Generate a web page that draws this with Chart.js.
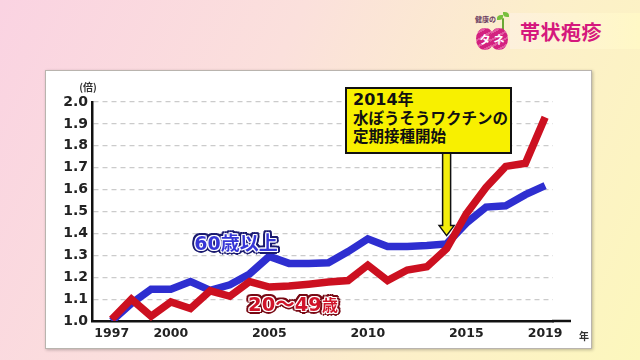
<!DOCTYPE html>
<html lang="ja">
<head>
<meta charset="utf-8">
<title>帯状疱疹</title>
<script src="https://cdn.jsdelivr.net/npm/chart.js@4"></script>
<style>
  body { margin: 0; }
  #stage {
    position: relative; width: 640px; height: 360px; overflow: hidden;
    background: linear-gradient(115deg, #fad3e2 0%, #fbe0dc 38%, #fcefca 68%, #fcf7bd 100%);
    font-family: "Noto Sans CJK JP", sans-serif;
  }
  #panel {
    position: absolute; left: 45px; top: 70px; width: 547px; height: 279px;
    box-sizing: border-box; background: #fff; border: 1px solid #b9b4ae;
    box-shadow: 1px 1px 3px rgba(0, 0, 0, 0.25);
  }
  #chart { position: absolute; left: 0; top: 0; }
  .band {
    position: absolute; left: 510px; top: 13px; width: 130px; height: 36px;
    background: linear-gradient(to right, #fdf0dc, #fff8c6);
  }
  .band-title {
    position: absolute; left: 520px; top: 31px; transform: translateY(-50%);
    font-size: 20px; font-weight: bold; color: #d5187d; letter-spacing: 0.5px;
  }
  .logo-small { position: absolute; left: 475px; top: 14px; font-size: 7px; color: #6a3a60; font-weight: bold; }
  .egg {
    position: absolute; top: 28px; width: 18px; height: 22px; border-radius: 50% / 55%;
    background: repeating-linear-gradient(150deg, #d3217f 0 4px, #e2589f 4px 6px);
    color: #fff; font-size: 11px; font-weight: bold; text-align: center; line-height: 22px;
  }
  .leaf { position: absolute; width: 6px; height: 5px; background: #78bf3c; border-radius: 70% 0; }
  .stem { position: absolute; left: 502px; top: 18px; width: 2px; height: 13px; background: #6aa832; border-radius: 1px; }
  .callout {
    position: absolute; left: 345px; top: 87px; width: 167px; height: 67px; box-sizing: border-box;
    background: #f8f000; border: 2px solid #111; padding: 2px 6px;
    font-family: "DejaVu Sans", "Noto Sans CJK JP", sans-serif;
    font-weight: bold; font-size: 15.5px; line-height: 18.5px; color: #111; white-space: nowrap;
  }
  .callout .first { font-size: 16px; }
  .series-label {
    position: absolute; transform: translate(-50%, -50%); white-space: nowrap;
    font-family: "DejaVu Sans", "Noto Sans CJK JP", sans-serif; font-weight: bold; font-size: 19px;
  }
  .lab60 {
    left: 236px; top: 241px; color: #3636d6;
    text-shadow: 1px 0 #fff, -1px 0 #fff, 0 1px #fff, 0 -1px #fff, 1px 1px #fff, -1px -1px #fff, 1px -1px #fff, -1px 1px #fff,
      3px 0 #1a1a70, -3px 0 #1a1a70, 0 3px #1a1a70, 0 -3px #1a1a70,
      2.2px 2.2px #1a1a70, -2.2px -2.2px #1a1a70, 2.2px -2.2px #1a1a70, -2.2px 2.2px #1a1a70,
      3px 1.5px #1a1a70, -3px 1.5px #1a1a70, 3px -1.5px #1a1a70, -3px -1.5px #1a1a70;
  }
  .lab20 {
    left: 293px; top: 302px; color: #d0142a; font-size: 19.5px;
    text-shadow: 1px 0 #fff, -1px 0 #fff, 0 1px #fff, 0 -1px #fff, 1px 1px #fff, -1px -1px #fff, 1px -1px #fff, -1px 1px #fff,
      3px 0 #780914, -3px 0 #780914, 0 3px #780914, 0 -3px #780914,
      2.2px 2.2px #780914, -2.2px -2.2px #780914, 2.2px -2.2px #780914, -2.2px 2.2px #780914,
      3px 1.5px #780914, -3px 1.5px #780914, 3px -1.5px #780914, -3px -1.5px #780914;
  }
  .lab20 .small { font-size: 16px; }
  .unit { position: absolute; font-size: 10px; font-weight: bold; color: #333; transform: translate(-50%, -50%); }
</style>
</head>
<body>
<div id="stage">
  <div class="band"></div>
  <div class="band-title">帯状疱疹</div>
  <div class="logo-small">健康の</div>
  <div class="stem"></div>
  <div class="leaf" style="left:497px; top:15px;"></div>
  <div class="leaf" style="left:503px; top:12px; transform: scaleX(-1);"></div>
  <div class="egg" style="left:476px;">タ</div>
  <div class="egg" style="left:490px;">ネ</div>

  <div id="panel"></div>
  <canvas id="chart" width="640" height="360"></canvas>

  <div class="unit" style="left:88px; top:86px;">(倍)</div>
  <div class="unit" style="left:584px; top:335px;">年</div>

  <div class="callout">
    <div class="first">2014年</div>
    <div>水ぼうそうワクチンの</div>
    <div>定期接種開始</div>
  </div>

  <div class="series-label lab60">60歳以上</div>
  <div class="series-label lab20">20〜49<span class="small">歳</span></div>
</div>

<script>
// Data (ratio vs 1997)
const years = [1997, 1998, 1999, 2000, 2001, 2002, 2003, 2004, 2005, 2006, 2007, 2008,
  2009, 2010, 2011, 2012, 2013, 2014, 2015, 2016, 2017, 2018, 2019];
const age60Plus = [1.0, 1.08, 1.145, 1.145, 1.18, 1.14, 1.165, 1.215, 1.295, 1.263, 1.263, 1.266,
  1.317, 1.375, 1.34, 1.34, 1.345, 1.352, 1.447, 1.52, 1.526, 1.577, 1.618];
const age20to49 = [1.008, 1.1, 1.022, 1.087, 1.057, 1.138, 1.113, 1.18, 1.155, 1.16, 1.168, 1.178,
  1.185, 1.255, 1.185, 1.233, 1.248, 1.33, 1.49, 1.61, 1.706, 1.72, 1.93];

const xTickYears = [1997, 2000, 2005, 2010, 2015, 2019];
const yTickValues = [1.0, 1.1, 1.2, 1.3, 1.4, 1.5, 1.6, 1.7, 1.8, 1.9, 2.0];

// Arrow from the callout box points here
const noteYear = 2014;
const noteTipValue = 1.39;

const toPoints = (values) => years.map((yr, i) => ({ x: yr, y: values[i] }));

// Arrow + the bit of x axis that runs past the gridlines
const extrasPlugin = {
  id: "extras",
  afterDatasetsDraw(chart) {
    const { ctx, chartArea, scales } = chart;
    ctx.save();
    ctx.strokeStyle = "#111";
    ctx.lineWidth = 2.5;
    ctx.beginPath();
    ctx.moveTo(chartArea.right - 1, chartArea.bottom);
    ctx.lineTo(chartArea.right + 18, chartArea.bottom);
    ctx.stroke();

    const ax = scales.x.getPixelForValue(noteYear);
    const tip = scales.y.getPixelForValue(noteTipValue);
    const top = 150;
    ctx.beginPath();
    ctx.moveTo(ax - 4, top);
    ctx.lineTo(ax - 4, tip - 10);
    ctx.lineTo(ax - 7.5, tip - 10);
    ctx.lineTo(ax, tip);
    ctx.lineTo(ax + 7.5, tip - 10);
    ctx.lineTo(ax + 4, tip - 10);
    ctx.lineTo(ax + 4, top);
    ctx.fillStyle = "#f4ee0c";
    ctx.fill();
    ctx.lineWidth = 1.5;
    ctx.stroke();
    ctx.restore();
  },
};

const tickFont = { family: "DejaVu Sans", weight: "bold", size: 14 };

new Chart(document.getElementById("chart").getContext("2d"), {
  type: "line",
  data: {
    datasets: [
      {
        label: "20〜49歳",
        data: toPoints(age20to49),
        borderColor: "#cc1020",
        borderWidth: 7.5,
        pointRadius: 0,
        tension: 0,
        clip: { left: 5, top: 5, right: 5, bottom: 0 },
      },
      {
        label: "60歳以上",
        data: toPoints(age60Plus),
        borderColor: "#2e2ed0",
        borderWidth: 7.5,
        pointRadius: 0,
        tension: 0,
        clip: { left: 5, top: 5, right: 5, bottom: 0 },
      },
    ],
  },
  options: {
    responsive: false,
    animation: false,
    layout: { padding: { left: 52, right: 87, top: 102, bottom: 0 } },
    plugins: {
      legend: { display: false },
      tooltip: { enabled: false },
    },
    scales: {
      x: {
        type: "linear",
        min: 1996,
        max: 2019.4,
        afterBuildTicks: (scale) => {
          scale.ticks = xTickYears.map((v) => ({ value: v }));
        },
        afterFit: (scale) => {
          scale.height = 39;
        },
        grid: { drawOnChartArea: false, drawTicks: false },
        border: { display: true, color: "#111", width: 2.5 },
        ticks: {
          padding: 5,
          color: "#222",
          font: { ...tickFont, size: 12.5 },
          maxRotation: 0,
          callback: (value) => String(value),
        },
      },
      y: {
        min: 1.0,
        max: 2.0,
        afterBuildTicks: (scale) => {
          scale.ticks = yTickValues.map((v) => ({ value: v }));
        },
        afterFit: (scale) => {
          scale.width = 40;
        },
        grid: { color: "#cbcbcb", lineWidth: 1.2, drawTicks: false },
        border: { display: true, color: "#111", width: 2.5, dash: [5, 4] },
        ticks: {
          padding: 4,
          color: "#222",
          font: tickFont,
          callback: (value) => value.toFixed(1),
        },
      },
    },
  },
  plugins: [extrasPlugin],
});
</script>
</body>
</html>
